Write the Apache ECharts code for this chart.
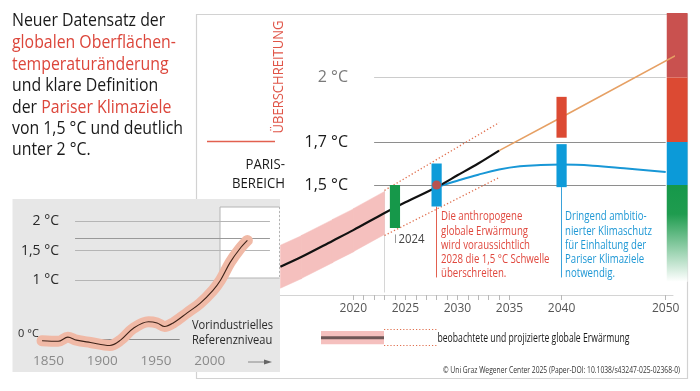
<!DOCTYPE html>
<html><head><meta charset="utf-8">
<script src="https://cdn.jsdelivr.net/npm/echarts@6/dist/echarts.min.js"></script>
<style>html,body{margin:0;padding:0;background:#fff}#c{width:700px;height:391px}</style>
</head><body><div id="c"></div>
<script>
// ---------------- data ----------------
const obsYears = [2013, 2015, 2018, 2020, 2023];
const obsLow = [1.02, 1.065, 1.14, 1.19, 1.27];
const obsHigh = [1.22, 1.265, 1.34, 1.39, 1.47];
const trendYears = [2013, 2015, 2018, 2020, 2023, 2025, 2028, 2030, 2032, 2034];
const trendValues = [1.12, 1.165, 1.24, 1.29, 1.37, 1.42, 1.49, 1.545, 1.60, 1.66];
const projYears = [2023, 2034];
const projUpper = [1.475, 1.79];
const projLower = [1.265, 1.535];
const highYears = [2034, 2040, 2052];
const highValues = [1.66, 1.815, 2.13];
const parisYears = [2028, 2030, 2032, 2034, 2036, 2038, 2040, 2043, 2046, 2050];
const parisValues = [1.49, 1.52, 1.548, 1.572, 1.587, 1.593, 1.595, 1.59, 1.578, 1.56];
const rangeYears = [2024, 2028, 2040, 2040];
const rangeLow = [1.3, 1.4, 1.72, 1.49];
const rangeHigh = [1.5, 1.6, 1.91, 1.69];
const crossYear = [2028];
const crossValue = [1.5];
const zoneLow = [2.0, 1.7, 1.5, 1.05];
const zoneHigh = [2.3, 2.0, 1.7, 1.5];
const levelValues = [2, 1.7, 1.5];
const levelLabels = ['2 °C', '1,7 °C', '1,5 °C'];
const xTickYears = [2020,2021,2022,2023,2024,2025,2026,2027,2028,2029,2030,2031,2032,2033,2034,2035,2040,2050];
const xLabelYears = [2020, 2025, 2030, 2035, 2040, 2050];
// inset (historical)
const histYears = [1844, 1859, 1868, 1876, 1889, 1907, 1917, 1929, 1943, 1951, 1958, 1966, 1979, 1991, 2003, 2010, 2019, 2028, 2035];
const histValues = [-0.02, -0.03, 0.04, -0.01, -0.05, -0.1, -0.01, 0.19, 0.30, 0.28, 0.22, 0.28, 0.45, 0.61, 0.83, 1.0, 1.30, 1.53, 1.67];
const insetLevelValues = [2, 1.7, 1.5, 1];
const insetLabelValues = [2, 1.5, 1];
const insetLabels = ['2 °C', '1,5 °C', '1 °C'];
const insetZeroLabel = '0 °C';
const insetXLabels = [1850, 1900, 1950, 2000];

// ---------------- styles ----------------
const FONT = 'Open Sans';
const RED = '#dc463b';
const rangeColors = ['#16984a', '#0e9bd9', '#dc4a33', '#0e9bd9'];
const zoneColors = ['#c9514f', '#dc4a33', '#0c9ad8', 'green'];
const levelColors = ['#cccccc', '#8e8e8e', '#8e8e8e'];

const mctx = document.createElement('canvas').getContext('2d');
function fit(text, size, target) {
  mctx.font = size + 'px "' + FONT + '"';
  return target / mctx.measureText(text).width;
}
function T(x, y, text, size, color, sx, o) {
  o = o || {};
  const el = {
    type: 'text', x: x, y: y, scaleX: sx, z: 30, rotation: o.rot || 0,
    style: {
      text: text, fill: color, fontSize: size, fontFamily: FONT,
      textAlign: o.align || 'left', align: o.align || 'left',
      textVerticalAlign: 'middle', verticalAlign: 'middle'
    }
  };
  if (o.rich) el.style.rich = o.rich;
  return el;
}

const chart = echarts.init(document.getElementById('c'), null, {renderer: 'canvas', width: 700, height: 391});

// texts
const introLines = [
  'Neuer Datensatz der',
  '{r|globalen Oberflächen-}',
  '{r|temperaturänderung}',
  'und klare Definition',
  'der {r|Pariser Klimaziele}',
  'von 1,5 °C und deutlich',
  'unter 2 °C.'
];
const introY = [21, 43, 64.5, 86, 107.5, 129, 150];
const introSize = 19;
const introSx = fit('von 1,5 °C und deutlich', introSize, 171);
const redNote = ['Die anthropogene', 'globale Erwärmung', 'wird voraussichtlich', '2028 die 1,5 °C Schwelle', 'überschreiten.'];
const blueNote = ['Dringend ambitio-', 'nierter Klimaschutz', 'für Einhaltung der', 'Pariser Klimaziele', 'notwendig.'];
const noteSize = 12;
const noteSx = (fit(redNote[3], noteSize, 111) + fit(blueNote[1], noteSize, 85)) / 2;

const g = [];
// main frame
g.push({type: 'rect', z: 1, shape: {x: 196.5, y: 14.5, width: 491, height: 364}, style: {fill: 'none', stroke: '#d2d2d2', lineWidth: 1.2}});
// inset background
g.push({type: 'rect', z: 10, shape: {x: 12.5, y: 199, width: 267.5, height: 173}, style: {fill: '#e7e7e7'}});
g.push({type: 'rect', z: 11, shape: {x: 220, y: 207, width: 59.5, height: 71}, style: {fill: '#ffffff'}});
g.push({type: 'polyline', z: 11, shape: {points: [[279.5, 207], [220, 207], [220, 278], [279.5, 278]]}, style: {stroke: '#b4b4b4', lineWidth: 1, fill: 'none'}});
g.push({type: 'line', z: 11, shape: {x1: 279.5, y1: 207, x2: 279.5, y2: 278}, style: {stroke: '#b4b4b4', lineWidth: 1, lineDash: [2, 2]}});
// inset arrow
g.push({type: 'line', z: 30, shape: {x1: 248, y1: 362, x2: 266, y2: 362}, style: {stroke: '#888', lineWidth: 1}});
g.push({type: 'polygon', z: 30, shape: {points: [[272, 362], [264, 359.5], [264, 364.5]]}, style: {fill: '#666'}});
// red exceedance line
g.push({type: 'line', z: 30, shape: {x1: 207, y1: 141.5, x2: 275, y2: 141.5}, style: {stroke: '#e2604f', lineWidth: 1.3}});
// intro text
const richIntro = {r: {fill: RED, color: RED, fontSize: introSize, fontFamily: FONT}};
introLines.forEach((t, i) => g.push(T(12, introY[i], t, introSize, '#1a1a1a', introSx, {rich: richIntro})));
// exceedance / paris
g.push(T(279.5, 77, 'ÜBERSCHREITUNG', 14, '#e05548', fit('ÜBERSCHREITUNG', 14, 113), {align: 'center', rot: Math.PI / 2}));
const bSx = fit('BEREICH', 14.5, 53);
g.push(T(285, 165, 'PARIS-', 14.5, '#1a1a1a', bSx, {align: 'right'}));
g.push(T(285, 183.5, 'BEREICH', 14.5, '#1a1a1a', bSx, {align: 'right'}));
g.push(T(398.5, 239.5, '2024', 12, '#444', fit('2024', 12, 26)));
redNote.forEach((t, i) => g.push(T(441, 217 + i * 14.2, t, noteSize, '#e0483e', noteSx)));
blueNote.forEach((t, i) => g.push(T(565, 217 + i * 14.2, t, noteSize, '#1f98d5', noteSx)));
const vSx = fit('Vorindustrielles', 13, 81);
g.push(T(192, 325, 'Vorindustrielles', 13, '#2a2a2a', vSx));
g.push(T(192, 340.5, 'Referenzniveau', 13, '#2a2a2a', vSx));
// legend
g.push({type: 'rect', z: 30, shape: {x: 321, y: 331, width: 63, height: 13.3}, style: {fill: '#f5c0be'}});
g.push({type: 'line', z: 31, shape: {x1: 321, y1: 337.7, x2: 384, y2: 337.7}, style: {stroke: '#6e5656', lineWidth: 3}});
g.push({type: 'line', z: 31, shape: {x1: 384, y1: 329.5, x2: 437, y2: 329.5}, style: {stroke: '#e0704f', lineWidth: 1.2, lineDash: [1.2, 2]}});
g.push({type: 'line', z: 31, shape: {x1: 384, y1: 345.5, x2: 437, y2: 345.5}, style: {stroke: '#e0704f', lineWidth: 1.2, lineDash: [1.2, 2]}});
const legText = 'beobachtete und projizierte globale Erwärmung';
g.push(T(437.5, 338, legText, 12.5, '#1a1a1a', fit(legText, 12.5, 192)));
const copy = '© Uni Graz Wegener Center 2025 (Paper-DOI: 10.1038/s43247-025-02368-0)';
g.push(T(680, 370, copy, 9.5, '#333', fit(copy, 9.5, 237), {align: 'right'}));

function near(a, b) { return Math.abs(a - b) < 1e-6; }

const option = {
  backgroundColor: '#ffffff',
  animation: false,
  textStyle: {fontFamily: FONT},
  grid: [
    {left: 280.4, right: 27, top: 13, bottom: 98.5},
    {left: 39.9, right: 430.05, top: 209, bottom: 39.6}
  ],
  xAxis: [
    {gridIndex: 0, type: 'value', min: 2013, max: 2050.7, offset: 2.5,
      axisLine: {show: true, lineStyle: {color: '#d4d4d4', width: 1}},
      axisTick: {show: true, customValues: xTickYears, length: 5, lineStyle: {color: '#b8b8b8'}},
      axisLabel: {customValues: xLabelYears, color: '#555', fontSize: 12, fontFamily: FONT, margin: 8, formatter: v => String(v)},
      splitLine: {show: false}},
    {gridIndex: 1, type: 'value', min: 1842, max: 2056, z: 12,
      axisLine: {show: false}, axisTick: {show: false}, splitLine: {show: false},
      axisLabel: {customValues: insetXLabels, color: '#8a8a8a', fontSize: 13.5, fontFamily: FONT, margin: 3, formatter: v => String(v)}}
  ],
  yAxis: [
    {gridIndex: 0, type: 'value', position: 'left', min: 1.0, max: 2.3, offset: -73.6,
      axisLine: {show: false}, axisTick: {show: false}, splitLine: {show: false},
      axisLabel: {customValues: levelValues, margin: 6,
        formatter: v => { const i = levelValues.findIndex(x => near(x, v)); return '{' + (i === 0 ? 'g' : 'b') + '|' + levelLabels[i] + '}'; },
        rich: {g: {color: '#7a7a7a', fontSize: 16, fontFamily: FONT}, b: {color: '#1a1a1a', fontSize: 16, fontFamily: FONT}}}},
    {gridIndex: 1, type: 'value', position: 'left', min: -0.2, max: 2.2, offset: -23.1, z: 12,
      axisLine: {show: false}, axisTick: {show: false}, splitLine: {show: false},
      axisLabel: {customValues: insetLabelValues, margin: 4, color: '#2a2a2a', fontSize: 14, fontFamily: FONT,
        formatter: v => insetLabels[insetLabelValues.findIndex(x => near(x, v))]}},
    {gridIndex: 1, type: 'value', position: 'left', min: -0.2, max: 2.2, offset: 0, z: 12,
      axisLine: {show: false}, axisTick: {show: false}, splitLine: {show: false},
      axisLabel: {customValues: [0], margin: 1, color: '#2a2a2a', fontSize: 11, fontFamily: FONT, verticalAlign: 'bottom',
        formatter: () => insetZeroLabel}}
  ],
  graphic: {elements: g},
  series: [
    // level gridlines (main)
    {type: 'line', xAxisIndex: 0, yAxisIndex: 0, data: [], silent: true,
      markLine: {silent: true, symbol: 'none', z: 1, label: {show: false},
        data: levelValues.map((v, i) => [{coord: [2022, v], lineStyle: {color: levelColors[i], width: 1, type: 'solid'}}, {coord: [2050, v]}])}},
    // guide lines
    {type: 'line', xAxisIndex: 0, yAxisIndex: 0, data: [], silent: true,
      markLine: {silent: true, symbol: 'none', z: 2, label: {show: false},
        data: [
          [{coord: [projYears[0], 1.0], lineStyle: {color: '#d6d6d6', width: 1, type: 'solid'}}, {coord: [projYears[0], projUpper[0]]}],
          [{coord: [rangeYears[0], rangeLow[0] - 0.03], lineStyle: {color: '#9a9a9a', width: 1, type: 'solid'}}, {coord: [rangeYears[0], rangeLow[0] - 0.07]}],
          [{coord: [rangeYears[1], rangeLow[1]], lineStyle: {color: '#e2604f', width: 1, type: 'solid'}}, {coord: [rangeYears[1], 1.07]}],
          [{coord: [rangeYears[3], rangeLow[3]], lineStyle: {color: '#3aa2da', width: 1, type: 'solid'}}, {coord: [rangeYears[3], 1.07]}]
        ]}},
    // observed band (polygon segments between consecutive points)
    {type: 'custom', xAxisIndex: 0, yAxisIndex: 0, z: 3, clip: false, silent: true,
      encode: {x: 0, y: [1, 2]},
      data: obsYears.map((y, i) => [y, obsLow[i], obsHigh[i]]),
      renderItem: (params, api) => {
        const n = params.dataInsideLength;
        const i = params.dataIndexInside;
        if (i >= n - 1) return null;
        const a1 = api.coord([api.value(0, i), api.value(2, i)]);
        const a2 = api.coord([api.value(0, i + 1), api.value(2, i + 1)]);
        const b2 = api.coord([api.value(0, i + 1), api.value(1, i + 1)]);
        const b1 = api.coord([api.value(0, i), api.value(1, i)]);
        const ext = i < n - 2 ? 0.6 : 0;
        return {type: 'polygon', shape: {points: [a1, [a2[0] + ext, a2[1]], [b2[0] + ext, b2[1]], b1]},
          style: {fill: '#f5c0be', stroke: '#f5c0be', lineWidth: 0.5}};
      }},
    // projection cone
    {type: 'line', xAxisIndex: 0, yAxisIndex: 0, symbol: 'none', z: 3, clip: false,
      lineStyle: {color: '#e0704f', width: 1.3, type: [1.3, 2.2]}, data: projYears.map((y, i) => [y, projUpper[i]])},
    {type: 'line', xAxisIndex: 0, yAxisIndex: 0, symbol: 'none', z: 3, clip: false,
      lineStyle: {color: '#e0704f', width: 1.3, type: [1.3, 2.2]}, data: projYears.map((y, i) => [y, projLower[i]])},
    // climate zones colour bar
    {type: 'custom', xAxisIndex: 0, yAxisIndex: 0, z: 4, clip: false, silent: true,
      encode: {x: 0, y: [1, 2]},
      data: zoneLow.map((v, i) => [2050, v, zoneHigh[i], i]),
      renderItem: (params, api) => {
        const i = api.value(3);
        const p1 = api.coord([2050.1, api.value(2)]);
        const p2 = api.coord([2052.1, api.value(1)]);
        let fill = zoneColors[i];
        if (fill === 'green') fill = new echarts.graphic.LinearGradient(0, 0, 0, 1, [
          {offset: 0, color: '#16984a'}, {offset: 0.3, color: '#1f9c4f'}, {offset: 1, color: 'rgba(255,255,255,1)'}]);
        return {type: 'rect', shape: {x: p1[0], y: p1[1], width: p2[0] - p1[0], height: p2[1] - p1[1]}, style: {fill: fill}};
      }},
    // paris-compatible path
    {type: 'line', xAxisIndex: 0, yAxisIndex: 0, symbol: 'none', z: 5, clip: false, smooth: 0.4,
      lineStyle: {color: '#1897d6', width: 2}, data: parisYears.map((y, i) => [y, parisValues[i]])},
    // high path
    {type: 'line', xAxisIndex: 0, yAxisIndex: 0, symbol: 'none', z: 6, clip: false,
      lineStyle: {color: '#e6a064', width: 1.6}, data: highYears.map((y, i) => [y, highValues[i]])},
    // observed / projected trend
    {type: 'line', xAxisIndex: 0, yAxisIndex: 0, symbol: 'none', z: 6, clip: false, smooth: 0.3,
      lineStyle: {color: '#111', width: 2.2}, data: trendYears.map((y, i) => [y, trendValues[i]])},
    // range bars
    {type: 'custom', xAxisIndex: 0, yAxisIndex: 0, z: 7, clip: false, silent: true,
      encode: {x: 0, y: [1, 2]},
      data: rangeYears.map((y, i) => [y, rangeLow[i], rangeHigh[i], i]),
      renderItem: (params, api) => {
        const x = api.value(0);
        const p1 = api.coord([x, api.value(2)]);
        const p2 = api.coord([x, api.value(1)]);
        const w = api.size([1, 0])[0] * 0.98;
        return {type: 'rect', shape: {x: p1[0] - w / 2, y: p1[1], width: w, height: p2[1] - p1[1]}, style: {fill: rangeColors[api.value(3)]}};
      }},
    // crossing point
    {type: 'scatter', xAxisIndex: 0, yAxisIndex: 0, z: 8, symbolSize: 9, itemStyle: {color: '#e5412e'},
      data: crossYear.map((y, i) => [y, crossValue[i]])},
    // inset gridlines
    {type: 'line', xAxisIndex: 1, yAxisIndex: 1, data: [], silent: true, z: 11,
      markLine: {silent: true, symbol: 'none', z: 11.5, label: {show: false},
        data: insetLevelValues.map((v, i) => [{coord: [1874.7, v], lineStyle: {color: v === 1.7 ? '#999' : '#b5b5b5', width: 1, type: 'solid'}}, {coord: [v === 1 ? 2009.5 : 2056, v]}])
          .concat([[{coord: [1844, 0], lineStyle: {color: '#8c8c8c', width: 1, type: 'solid'}}, {coord: [1972, 0]}]])}},
    // inset historical curve
    {type: 'line', xAxisIndex: 1, yAxisIndex: 1, symbol: 'none', z: 12, clip: false, smooth: 0.35,
      lineStyle: {color: '#f0b9a6', width: 11, cap: 'round', join: 'round'}, data: histYears.map((y, i) => [y, histValues[i]])},
    {type: 'line', xAxisIndex: 1, yAxisIndex: 1, symbol: 'none', z: 13, clip: false, smooth: 0.35,
      lineStyle: {color: '#3d2218', width: 1.1}, data: histYears.map((y, i) => [y, histValues[i]])}
  ]
};
chart.setOption(option);
</script></body></html>
